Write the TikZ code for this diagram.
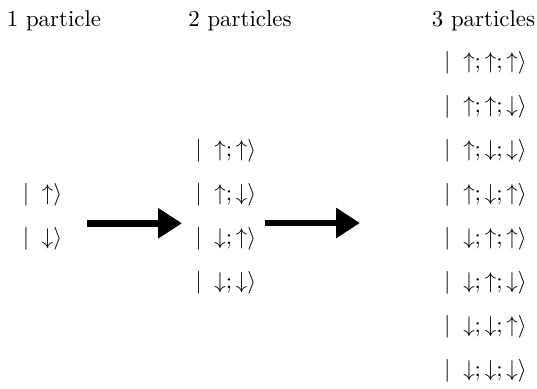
\documentclass[tikz,border=0pt]{standalone}
\usepackage{amssymb}
\usetikzlibrary{arrows.meta}
\begin{document}
\begin{tikzpicture}[x=0.4376pt,y=0.4376pt,node distance=19.25pt,
  bigarrow/.style={-{Triangle[length=10.5pt,width=12.7pt]},line width=2.9pt}]
  \useasboundingbox (0,0) rectangle (537,388);
  \node (p1) at (54,367) {1 particle};
  \node (p2) at (240,367) {2 particles};
  \node (p3) at (483.5,367) {3 particles};
  \node (u) at (42.5,193) {$\vert\;\uparrow\rangle$};
  \node (d) [below of=u] {$\vert\;\downarrow\rangle$};
  \node (uu) at (225.8,237) {$\vert\;\uparrow;\uparrow\rangle$};
  \node (ud) [below of=uu] {$\vert\;\uparrow;\downarrow\rangle$};
  \node (du) [below of=ud] {$\vert\;\downarrow;\uparrow\rangle$};
  \node (dd) [below of=du] {$\vert\;\downarrow;\downarrow\rangle$};
  \node (uuu) at (485.5,325) {$\vert\;\uparrow;\uparrow;\uparrow\rangle$};
  \node (uud) [below of=uuu] {$\vert\;\uparrow;\uparrow;\downarrow\rangle$};
  \node (udd) [below of=uud] {$\vert\;\uparrow;\downarrow;\downarrow\rangle$};
  \node (udu) [below of=udd] {$\vert\;\uparrow;\downarrow;\uparrow\rangle$};
  \node (duu) [below of=udu] {$\vert\;\downarrow;\uparrow;\uparrow\rangle$};
  \node (dud) [below of=duu] {$\vert\;\downarrow;\uparrow;\downarrow\rangle$};
  \node (ddu) [below of=dud] {$\vert\;\downarrow;\downarrow;\uparrow\rangle$};
  \node (ddd) [below of=ddu] {$\vert\;\downarrow;\downarrow;\downarrow\rangle$};
  \coordinate (a1) at (87,164.7);
  \coordinate (b1) at (182,164.7);
  \coordinate (a2) at (265,165);
  \coordinate (b2) at (360,165);
  \draw[bigarrow] (a1) -- (b1);
  \draw[bigarrow] (a2) -- (b2);
\end{tikzpicture}
\end{document}
